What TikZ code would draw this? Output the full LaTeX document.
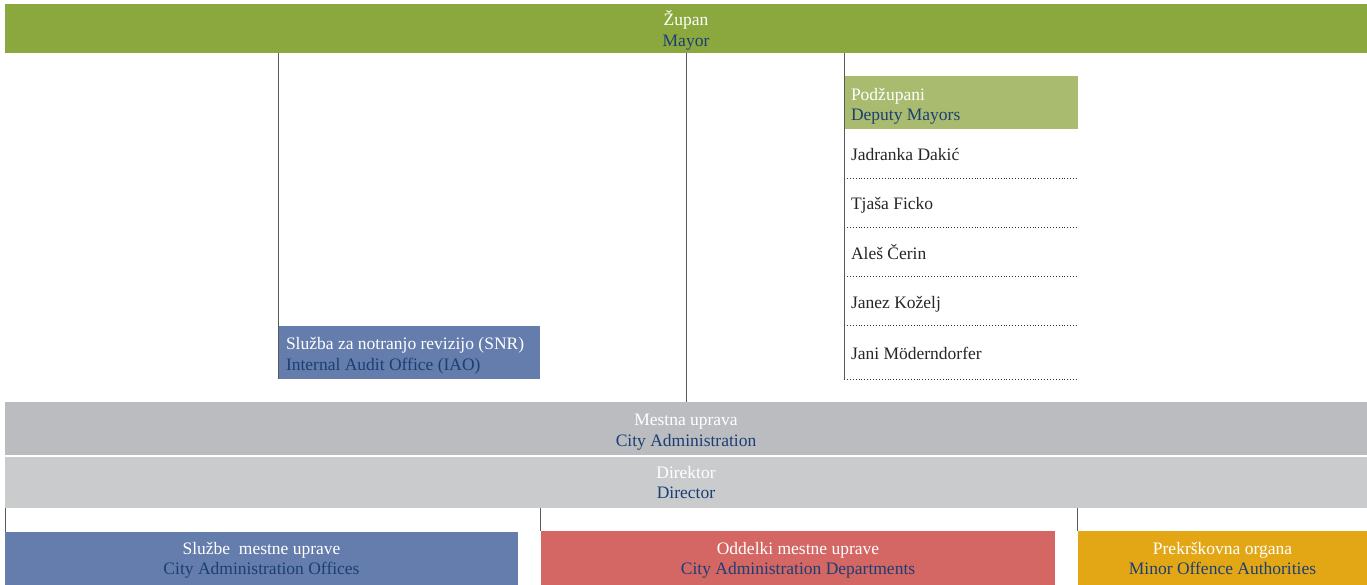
\documentclass[tikz,border=0pt]{standalone}
\usepackage{fontspec}
\setmainfont{Liberation Serif}
\begin{document}
\begin{tikzpicture}[x=1pt,y=-1pt,
  every node/.style={inner sep=0pt, outer sep=0pt, font=\fontsize{17.5}{20.5}\selectfont},
  fillbox/.style={rectangle, anchor=north west},
  ctext/.style={align=center, text=white},
  ltext/.style={align=left, text=white, anchor=west},
  person/.style={anchor=base west, text=black!85},
  linkline/.style={draw=black!65, line width=0.8pt},
  rowsep/.style={draw=black!80, dotted, line width=0.9pt}]
\definecolor{mayorgreen}{HTML}{8BA83E}
\definecolor{deputygreen}{HTML}{A9BB6F}
\definecolor{auditblue}{HTML}{647DAC}
\definecolor{admgray}{HTML}{BBBCBF}
\definecolor{dirgray}{HTML}{CACBCD}
\definecolor{deptred}{HTML}{D46664}
\definecolor{minorange}{HTML}{E3A716}
\definecolor{textblue}{HTML}{1B3F73}
\useasboundingbox[fill=white] (0,0) rectangle (1367,585);

\node[fillbox, fill=mayorgreen, minimum width=1362pt, minimum height=49pt] (mayor) at (5,4) {};
\node[ctext, yshift=-2pt] (mayortxt) at (mayor.center) {Župan\\\textcolor{textblue}{Mayor}};

\node[fillbox, fill=deputygreen, minimum width=234pt, minimum height=53pt] (deputy) at (844,76) {};
\node[ltext, yshift=-4pt] (deputytxt) at ([xshift=7pt]deputy.west) {Podžupani\\\textcolor{textblue}{Deputy Mayors}};

\node[fillbox, fill=auditblue, minimum width=262pt, minimum height=53pt] (audit) at (278,326) {};
\node[ltext, yshift=-3.5pt] (audittxt) at ([xshift=8pt]audit.west) {Služba za notranjo revizijo (SNR)\\\textcolor{textblue}{Internal Audit Office (IAO)}};

\node[person] (d1) at (851,161) {Jadranka Dakić};
\node[person] (d2) at (851,210) {Tjaša Ficko};
\node[person] (d3) at (851,259) {Aleš Čerin};
\node[person] (d4) at (851,308) {Janez Koželj};
\node[person] (d5) at (851,359) {Jani Möderndorfer};
\coordinate (colbottom) at (844,379);
\draw[rowsep] (844,178) -- (1078,178);
\draw[rowsep] (844,227) -- (1078,227);
\draw[rowsep] (844,276) -- (1078,276);
\draw[rowsep] (844,325) -- (1078,325);
\draw[rowsep] (844,379) -- (1078,379);

\node[fillbox, fill=admgray, minimum width=1362pt, minimum height=53pt] (cityadm) at (5,402) {};
\node[ctext, yshift=-3.5pt] (cityadmtxt) at (cityadm.center) {Mestna uprava\\\textcolor{textblue}{City Administration}};
\node[fillbox, fill=dirgray, minimum width=1362pt, minimum height=51pt] (director) at (5,457) {};
\node[ctext] (directortxt) at (director.center) {Direktor\\\textcolor{textblue}{Director}};

\node[fillbox, fill=auditblue, minimum width=513pt, minimum height=53pt] (offices) at (5,532) {};
\node[ctext, yshift=-2pt] (officestxt) at (offices.center) {Službe\ \ mestne uprave\\\textcolor{textblue}{City Administration Offices}};
\node[fillbox, fill=deptred, minimum width=514pt, minimum height=54pt] (depts) at (541,531) {};
\node[ctext, yshift=-2.5pt] (deptstxt) at (depts.center) {Oddelki mestne uprave\\\textcolor{textblue}{City Administration Departments}};
\node[fillbox, fill=minorange, minimum width=289pt, minimum height=54pt] (minor) at (1078,531) {};
\node[ctext, yshift=-0.5pt] (minortxt) at (minor.center) {Prekrškovna organa\\\textcolor{textblue}{Minor Offence Authorities}};

\draw[linkline] (audit.south west) -- (audit.south west |- mayor.south);
\draw[linkline] (mayor.south) -- (cityadm.north);
\draw[linkline] (colbottom) -- (colbottom |- mayor.south);
\draw[linkline] (offices.north west) -- (offices.north west |- director.south);
\draw[linkline] ([xshift=-0.5pt]depts.north west) -- ([xshift=-0.5pt]depts.north west |- director.south);
\draw[linkline] ([xshift=-0.5pt]minor.north west) -- ([xshift=-0.5pt]minor.north west |- director.south);
\end{tikzpicture}
\end{document}
